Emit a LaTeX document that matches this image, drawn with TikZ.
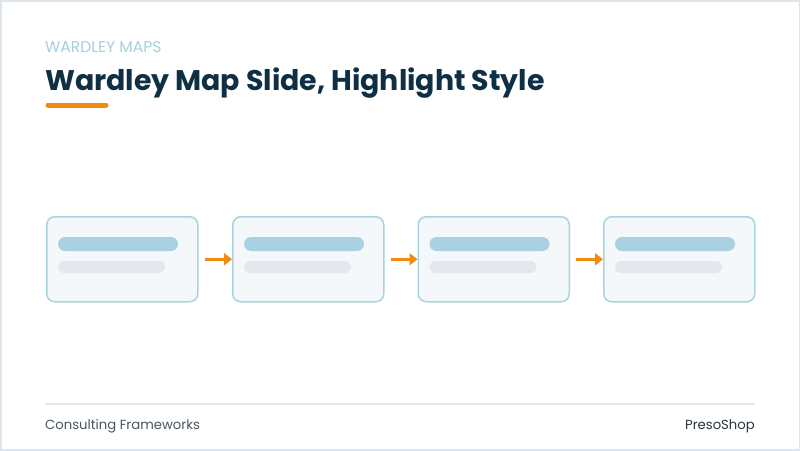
\documentclass[tikz,border=0pt]{standalone}
\usepackage{fontspec}
\setmainfont{Poppins}
\definecolor{frame}{HTML}{DDE6EE}
\definecolor{kicker}{HTML}{A8D0DC}
\definecolor{titlec}{HTML}{0F2F44}
\definecolor{accent}{HTML}{F28A10}
\definecolor{boxfill}{HTML}{F4F8FB}
\definecolor{boxline}{HTML}{A8D4E0}
\definecolor{barA}{HTML}{A9D1E2}
\definecolor{barB}{HTML}{E2E8EE}
\definecolor{rule}{HTML}{E3E8EE}
\definecolor{foot}{HTML}{4A5560}
\definecolor{brand}{HTML}{2A3440}
\tikzset{
  card/.style={draw=boxline, line width=1.5pt, fill=boxfill, rounded corners=8pt, minimum width=151pt, minimum height=85pt, inner sep=0pt},
  flow/.style={draw=accent, line width=3.5pt, -{Triangle[length=8pt,width=12pt]}},
  bara/.style={fill=barA, rounded corners=7pt},
  barb/.style={fill=barB, rounded corners=6pt},
}
\usetikzlibrary{arrows.meta}
\begin{document}
\begin{tikzpicture}[x=1pt,y=-1pt]
\useasboundingbox (0,0) rectangle (800,450);
\fill[white] (0,0) rectangle (800,450);
\draw[frame, line width=3pt] (0,0) rectangle (800,450);
\node[anchor=base west, font=\fontsize{15.6}{17}\selectfont, text=kicker, inner sep=0pt] (kick) at (45,52) {WARDLEY MAPS};
\node[anchor=base west, font=\fontsize{28.4}{32}\selectfont\bfseries, text=titlec, inner sep=0pt] (title) at (45,90) {Wardley Map Slide, Highlight Style};
\draw[accent, line width=5pt, line cap=round] (48,105) -- (106,105);
\foreach \i/\x in {1/46,2/232,3/417.5,4/603}{
  \node[card, anchor=north west] (c\i) at (\x,216) {};
  \fill[bara] (\x+12,237) rectangle (\x+132,251);
  \fill[barb] (\x+12,261) rectangle (\x+119,273);
}
\draw[flow] (c1.east) ++(6,0) coordinate (a1) -- (c2.west);
\draw[flow] (c2.east) ++(6,0) coordinate (a2) -- (c3.west);
\draw[flow] (c3.east) ++(6,0) coordinate (a3) -- (c4.west);
\draw[rule, line width=2pt] (45,404) -- (755,404);
\node[anchor=base west, font=\fontsize{13.2}{15}\selectfont, text=foot, inner sep=0pt] (ft) at (45,429) {Consulting Frameworks};
\node[anchor=base east, font=\fontsize{13.2}{15}\selectfont\mdseries, text=brand, inner sep=0pt] (br) at (755,429) {PresoShop};
\end{tikzpicture}
\end{document}
